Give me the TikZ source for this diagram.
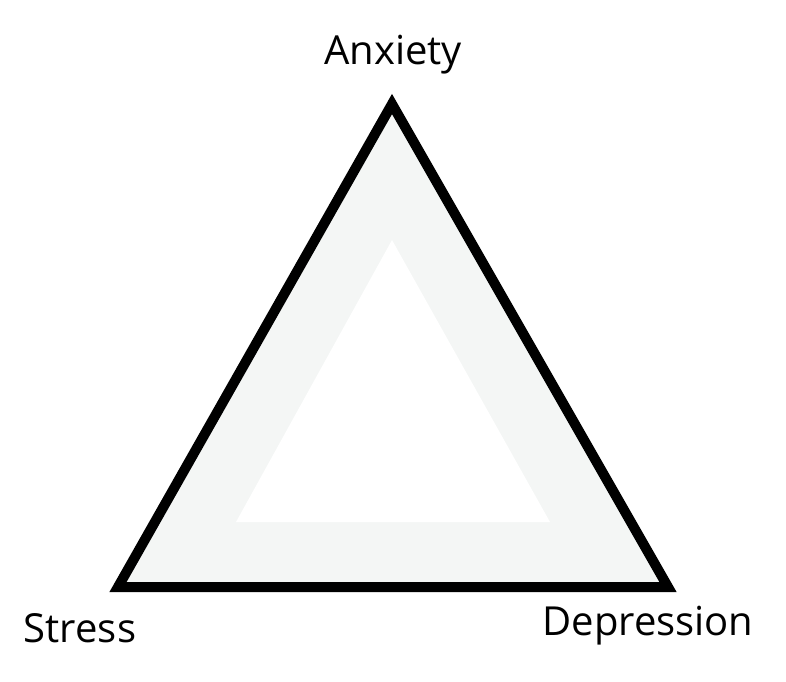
\documentclass[tikz,border=0pt]{standalone}
\usepackage{fontspec}
\setmainfont{Open Sans}
\definecolor{tfill}{HTML}{F4F6F5}
\tikzset{lbl/.style={font=\fontsize{40}{44}\selectfont, inner sep=0pt}}
\begin{document}
\begin{tikzpicture}[x=1pt,y=-1pt]
\useasboundingbox (0,0) rectangle (786,681);
\coordinate (A) at (392,104);
\coordinate (S) at (118,587);
\coordinate (D) at (668,587);
\fill[tfill] (A) -- (S) -- (D) -- cycle;
\fill[white] (392,240) -- (236,522) -- (550,522) -- cycle;
\draw[line width=10pt, line join=miter] (A) -- (S) -- (D) -- cycle;
\node[lbl] (an) at (393,55) {Anxiety};
\node[lbl] (st) at (80,628) {Stress};
\node[lbl] (de) at (648,626) {Depression};
\end{tikzpicture}
\end{document}
